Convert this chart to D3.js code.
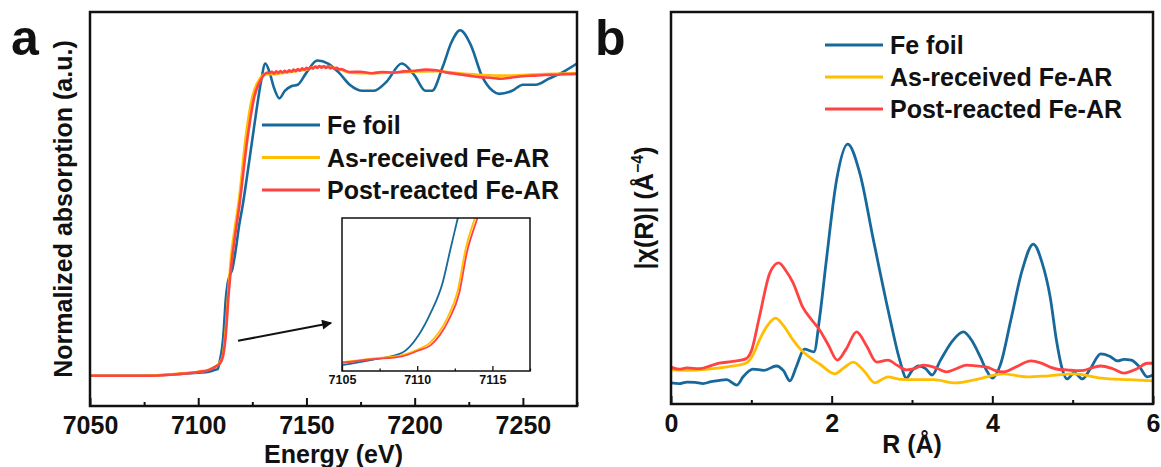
<!DOCTYPE html>
<html>
<head>
<meta charset="utf-8">
<script src="https://cdn.jsdelivr.net/npm/d3@7"></script>
<style>
  body { margin: 0; background: #fff; }
  svg text { font-family: "Liberation Sans", Arial, sans-serif; font-weight: bold; fill: #111; }
</style>
</head>
<body>
<div id="chart"></div>
<script>
const seriesNames = ['Fe foil', 'As-received Fe-AR', 'Post-reacted Fe-AR']
const colors = ['#17699c', '#ffbe00', '#ff4343']

// panel a: XANES, normalized absorption vs energy (eV)
const foilE = [7050, 7070, 7090, 7100, 7105, 7108, 7109, 7110, 7111, 7111.7, 7112.2, 7112.7, 7113.5, 7114.5, 7115.7, 7117, 7119, 7120.5, 7123, 7125, 7127, 7129, 7131, 7133, 7135, 7137.5, 7140, 7143, 7146, 7150, 7155, 7160, 7165, 7170, 7176, 7181, 7187, 7194, 7200, 7205, 7208, 7213, 7217, 7221, 7226, 7231, 7236, 7239, 7245, 7250, 7256, 7262, 7268, 7275]
const foilMu = [0.0, 0.0, 0.005, 0.01, 0.013, 0.02, 0.022, 0.05, 0.09, 0.14, 0.195, 0.25, 0.3, 0.33, 0.35, 0.4, 0.5, 0.56, 0.68, 0.78, 0.88, 0.97, 1.03, 1.0, 0.95, 0.915, 0.94, 0.955, 0.96, 1.0, 1.04, 1.03, 1.0, 0.96, 0.94, 0.94, 0.97, 1.03, 0.99, 0.94, 0.94, 1.02, 1.1, 1.14, 1.09, 0.99, 0.94, 0.93, 0.94, 0.96, 0.96, 0.98, 1.0, 1.03]
const asRecE = [7050, 7075, 7090, 7100, 7105, 7108, 7110, 7111.5, 7112.7, 7113.9, 7115.3, 7117, 7119, 7122, 7125, 7128.5, 7131, 7135, 7140, 7145, 7150, 7155, 7160, 7165, 7170, 7180, 7190, 7200, 7210, 7220, 7230, 7240, 7250, 7260, 7275]
const asRecMu = [0.0, 0.0, 0.006, 0.013, 0.02, 0.031, 0.043, 0.072, 0.15, 0.275, 0.4, 0.49, 0.59, 0.79, 0.92, 0.98, 0.995, 0.995, 1.0, 1.005, 1.01, 1.02, 1.02, 1.012, 1.0, 0.998, 1.0, 1.003, 1.005, 0.998, 0.993, 0.99, 0.992, 0.995, 0.998]
const postE = [7050, 7075, 7090, 7100, 7105, 7108, 7110, 7111.5, 7112.8, 7114, 7115.7, 7117, 7119, 7122.7, 7125.9, 7129.2, 7132, 7133, 7134, 7135, 7136, 7137, 7138, 7139, 7140, 7141, 7142, 7143, 7144, 7145, 7146, 7147, 7148, 7149, 7150, 7151, 7152, 7153, 7154, 7155, 7156, 7157, 7158, 7159, 7160, 7161, 7162, 7163, 7164, 7165, 7166, 7168, 7170, 7175, 7180, 7185, 7190, 7195, 7200, 7205, 7210, 7215, 7220, 7225, 7230, 7235, 7240, 7245, 7250, 7255, 7260, 7265, 7270, 7275]
const postMu = [0.0, 0.0, 0.005, 0.012, 0.019, 0.03, 0.04, 0.066, 0.14, 0.265, 0.39, 0.46, 0.56, 0.78, 0.92, 0.98, 1.0, 0.998, 1.003, 0.997, 1.004, 0.999, 1.005, 1.0, 1.006, 1.001, 1.008, 1.003, 1.01, 1.005, 1.012, 1.007, 1.014, 1.009, 1.016, 1.011, 1.018, 1.013, 1.02, 1.015, 1.022, 1.016, 1.021, 1.015, 1.02, 1.014, 1.018, 1.012, 1.016, 1.01, 1.012, 1.006, 1.002, 1.003, 0.998, 1.002, 1.0, 1.004, 1.006, 1.01, 1.008, 1.0, 0.995, 0.99, 0.985, 0.983, 0.98, 0.984, 0.988, 0.99, 0.992, 0.993, 0.995, 0.996]

// inset: pre-edge region
const insetFoilE = [7105, 7107, 7109, 7110.1, 7110.9, 7111.7, 7112.2, 7112.7, 7113.2]
const insetFoilMu = [0.015, 0.024, 0.036, 0.066, 0.104, 0.156, 0.211, 0.265, 0.32]
const insetAsRecE = [7105, 7107, 7109, 7110, 7110.8, 7111.4, 7112, 7112.7, 7113.2, 7113.9, 7114.4]
const insetAsRecMu = [0.02, 0.026, 0.032, 0.041, 0.052, 0.069, 0.095, 0.142, 0.21, 0.27, 0.31]
const insetPostE = [7105, 7107, 7109, 7110, 7110.9, 7111.5, 7112.1, 7112.8, 7113.3, 7114, 7114.5]
const insetPostMu = [0.019, 0.025, 0.03, 0.039, 0.049, 0.066, 0.092, 0.138, 0.206, 0.265, 0.31]

// panel b: FT-EXAFS |chi(R)| vs R (Å)
const foilR = [0, 0.1, 0.2, 0.3, 0.4, 0.5, 0.6, 0.69, 0.82, 0.9, 1.02, 1.16, 1.31, 1.4, 1.48, 1.56, 1.66, 1.78, 1.85, 1.93, 2.06, 2.2, 2.35, 2.52, 2.73, 2.85, 2.93, 3.0, 3.08, 3.17, 3.25, 3.35, 3.5, 3.64, 3.75, 3.85, 3.93, 4.0, 4.1, 4.23, 4.37, 4.51, 4.62, 4.72, 4.8, 4.87, 4.93, 5.02, 5.12, 5.22, 5.35, 5.46, 5.56, 5.64, 5.73, 5.83, 5.93, 6.0]
const foilChi = [0.54, 0.52, 0.56, 0.55, 0.52, 0.57, 0.6, 0.62, 0.48, 0.7, 0.89, 0.86, 0.97, 0.85, 0.59, 0.95, 1.4, 1.33, 2.2, 3.6, 5.7, 6.63, 5.89, 4.18, 2.14, 1.1, 0.66, 0.85, 0.97, 0.9, 0.74, 1.1, 1.6, 1.84, 1.6, 1.2, 0.85, 0.66, 1.0, 2.14, 3.4, 4.08, 3.6, 2.73, 1.6, 0.89, 0.64, 0.8, 0.64, 0.9, 1.28, 1.22, 1.1, 1.14, 1.12, 0.95, 0.69, 0.74]
const asRecR = [0, 0.2, 0.47, 0.7, 0.93, 1.02, 1.1, 1.2, 1.3, 1.4, 1.52, 1.62, 1.72, 1.85, 2.04, 2.15, 2.27, 2.4, 2.54, 2.62, 2.7, 2.85, 3.05, 3.27, 3.54, 3.81, 4.14, 4.43, 4.7, 5.02, 5.35, 5.7, 6.0]
const asRecChi = [0.87, 0.86, 0.89, 0.95, 1.04, 1.25, 1.63, 2.0, 2.19, 2.0, 1.63, 1.38, 1.2, 1.02, 0.77, 0.92, 1.07, 0.85, 0.54, 0.62, 0.69, 0.63, 0.62, 0.62, 0.54, 0.63, 0.77, 0.69, 0.72, 0.77, 0.66, 0.62, 0.59]
const postR = [0, 0.1, 0.2, 0.35, 0.5, 0.6, 0.75, 0.93, 1.0, 1.1, 1.23, 1.34, 1.43, 1.52, 1.64, 1.75, 1.85, 1.96, 2.07, 2.18, 2.31, 2.43, 2.56, 2.7, 2.82, 2.93, 3.03, 3.14, 3.3, 3.43, 3.55, 3.68, 3.8, 3.93, 4.03, 4.14, 4.3, 4.48, 4.6, 4.72, 4.83, 4.93, 5.04, 5.14, 5.25, 5.35, 5.5, 5.64, 5.8, 5.93, 6.0]
const postChi = [0.94, 0.89, 0.92, 0.9, 0.98, 1.04, 1.08, 1.15, 1.35, 2.22, 3.34, 3.6, 3.4, 3.09, 2.47, 2.15, 1.89, 1.5, 1.12, 1.4, 1.84, 1.5, 1.07, 1.12, 0.98, 0.87, 0.9, 0.99, 0.92, 0.82, 0.9, 0.99, 0.97, 0.94, 0.86, 0.82, 0.95, 1.1, 1.05, 0.94, 0.88, 0.87, 0.85, 0.86, 0.93, 0.97, 0.9, 0.79, 0.9, 1.04, 1.04]

const energyTicks = [7050, 7100, 7150, 7200, 7250]
const energyMinor = [7075, 7125, 7175, 7225, 7275]
const insetTicks = [7105, 7110, 7115]
const insetMinor = [7107.5, 7112.5, 7117.5]
const rTicks = [0, 2, 4, 6]
const rMinor = [1, 3, 5]

const zip = (xs, ys) => xs.map((v, i) => [v, ys[i]])

const svg = d3.select('#chart').append('svg')
  .attr('width', 1161)
  .attr('height', 467)

const boxA = {left: 90, right: 577, top: 12, bottom: 406}
const boxB = {left: 671, right: 1153, top: 12, bottom: 404}
const boxIn = {left: 342, right: 530, top: 218, bottom: 371}

const xA = d3.scaleLinear().domain([7050, 7275]).range([boxA.left, boxA.right])
const yA = d3.scaleLinear().domain([-0.1, 1.2]).range([boxA.bottom, boxA.top])
const xIn = d3.scaleLinear().domain([7105, 7117.5]).range([boxIn.left, boxIn.right])
const yIn = d3.scaleLinear().domain([0.005, 0.265]).range([boxIn.bottom, boxIn.top])
const xB = d3.scaleLinear().domain([0, 6]).range([boxB.left, boxB.right])
const yB = d3.scaleLinear().domain([0, 10]).range([boxB.bottom, boxB.top])

const defs = svg.append('defs')
function clip(id, b) {
  defs.append('clipPath').attr('id', id)
    .append('rect')
    .attr('x', b.left).attr('y', b.top)
    .attr('width', b.right - b.left).attr('height', b.bottom - b.top)
}
clip('clipA', boxA)
clip('clipB', boxB)
clip('clipIn', boxIn)
defs.append('marker')
  .attr('id', 'arrow')
  .attr('viewBox', '0 0 10 10')
  .attr('refX', 9).attr('refY', 5)
  .attr('markerWidth', 6).attr('markerHeight', 5)
  .attr('orient', 'auto')
  .attr('markerUnits', 'strokeWidth')
  .append('path')
  .attr('d', 'M0,0 L10,5 L0,10 z')
  .attr('fill', '#111')

function drawSeries(clipId, x, y, series, width) {
  const line = d3.line()
    .x(d => x(d[0]))
    .y(d => y(d[1]))
    .curve(d3.curveMonotoneX)
  svg.append('g')
    .attr('clip-path', `url(#${clipId})`)
    .selectAll('path')
    .data(series)
    .enter().append('path')
    .attr('d', d => line(d))
    .attr('fill', 'none')
    .attr('stroke', (d, i) => colors[i])
    .attr('stroke-width', width)
    .attr('stroke-linejoin', 'round')
}

function bottomAxis(x, yPos, major, minor, size, fontSize, pad, strokeW) {
  const g = svg.append('g').attr('transform', `translate(0,${yPos})`)
  g.call(d3.axisBottom(x).tickValues(major).tickSize(-size).tickPadding(pad).tickFormat(d3.format('d')))
  g.append('g').call(d3.axisBottom(x).tickValues(minor).tickSize(-size / 2).tickFormat(''))
  g.selectAll('.domain').remove()
  g.selectAll('line').attr('stroke', '#111').attr('stroke-width', strokeW)
  g.selectAll('text')
    .style('font-size', fontSize + 'px')
    .style('font-family', '"Liberation Sans", Arial, sans-serif')
    .style('font-weight', 'bold')
    .attr('fill', '#111')
}

function frame(b, w) {
  svg.append('rect')
    .attr('x', b.left).attr('y', b.top)
    .attr('width', b.right - b.left).attr('height', b.bottom - b.top)
    .attr('fill', 'none').attr('stroke', '#111').attr('stroke-width', w)
}

function legend(x0, y0, step) {
  const g = svg.append('g')
  seriesNames.forEach((name, i) => {
    g.append('line')
      .attr('x1', x0).attr('x2', x0 + 58)
      .attr('y1', y0 + i * step).attr('y2', y0 + i * step)
      .attr('stroke', colors[i]).attr('stroke-width', 3)
    g.append('text')
      .attr('x', x0 + 65).attr('y', y0 + i * step + 9)
      .style('font-size', '25px')
      .text(name)
  })
}

// ---------- panel a ----------
drawSeries('clipA', xA, yA, [zip(foilE, foilMu), zip(asRecE, asRecMu), zip(postE, postMu)], 2.6)
bottomAxis(xA, boxA.bottom, energyTicks, energyMinor, 8, 25, 10, 2)
frame(boxA, 2.5)
legend(262, 125, 32.5)

svg.append('text')
  .attr('x', (boxA.left + boxA.right) / 2).attr('y', 463)
  .attr('text-anchor', 'middle')
  .style('font-size', '25px')
  .text('Energy (eV)')
svg.append('text')
  .attr('transform', `translate(72,${(boxA.top + boxA.bottom) / 2}) rotate(-90)`)
  .attr('text-anchor', 'middle')
  .style('font-size', '25px')
  .text('Normalized absorption (a.u.)')
svg.append('text')
  .attr('x', 11).attr('y', 55)
  .style('font-size', '50px')
  .text('a')

// arrow to inset
svg.append('line')
  .attr('x1', xA(7118.4)).attr('y1', yA(0.115))
  .attr('x2', xA(7161.4)).attr('y2', yA(0.174))
  .attr('stroke', '#111').attr('stroke-width', 2)
  .attr('marker-end', 'url(#arrow)')

// inset
svg.append('rect')
  .attr('x', boxIn.left).attr('y', boxIn.top)
  .attr('width', boxIn.right - boxIn.left).attr('height', boxIn.bottom - boxIn.top)
  .attr('fill', '#fff')
drawSeries('clipIn', xIn, yIn, [zip(insetFoilE, insetFoilMu), zip(insetAsRecE, insetAsRecMu), zip(insetPostE, insetPostMu)], 1.8)
bottomAxis(xIn, boxIn.bottom, insetTicks, insetMinor, 5, 12.5, 4, 1.3)
frame(boxIn, 1.5)

// ---------- panel b ----------
drawSeries('clipB', xB, yB, [zip(foilR, foilChi), zip(asRecR, asRecChi), zip(postR, postChi)], 2.8)
bottomAxis(xB, boxB.bottom, rTicks, rMinor, 8, 25, 10, 2)
frame(boxB, 2.5)
legend(825, 45, 32)

svg.append('text')
  .attr('x', (boxB.left + boxB.right) / 2).attr('y', 453)
  .attr('text-anchor', 'middle')
  .style('font-size', '25px')
  .text('R (Å)')
const yLabB = svg.append('text')
  .attr('transform', `translate(653,${(boxB.top + boxB.bottom) / 2}) rotate(-90)`)
  .attr('text-anchor', 'middle')
  .style('font-size', '25px')
yLabB.append('tspan').text('|χ(R)| (Å')
yLabB.append('tspan').attr('dy', -10).style('font-size', '16px').text('−4')
yLabB.append('tspan').attr('dy', 10).text(')')
svg.append('text')
  .attr('x', 595).attr('y', 55)
  .style('font-size', '50px')
  .text('b')
</script>
</body>
</html>
